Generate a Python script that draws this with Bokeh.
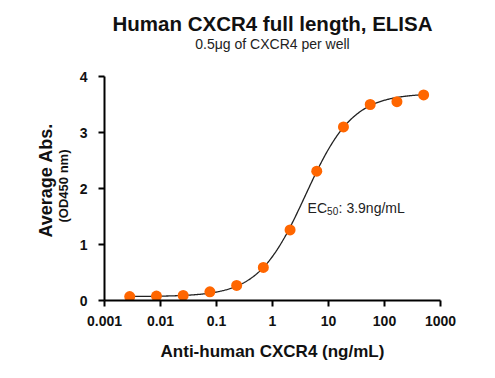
import numpy as np
from bokeh.plotting import figure
from bokeh.models import ColumnDataSource, FixedTicker, CustomJSTickFormatter, Title
from bokeh.core.properties import value
from bokeh.embed import file_html
from bokeh.resources import INLINE

# ---- data ----
concentration = [0.00282, 0.00847, 0.0254, 0.0762, 0.229, 0.686, 2.06, 6.17, 18.5, 55.6, 166.7, 500]
absorbance = [0.07, 0.08, 0.09, 0.155, 0.27, 0.59, 1.26, 2.31, 3.10, 3.50, 3.55, 3.67]
x_ticks = [0.001, 0.01, 0.1, 1, 10, 100, 1000]
y_ticks = [0, 1, 2, 3, 4]
# 4-parameter logistic fit shown in the chart
fit_bottom = 0.07
fit_top = 3.70
fit_ec50 = 3.9
fit_hill = 1.03
ec50_label_y = 1.65

title_text = "Human CXCR4 full length, ELISA"
subtitle_text = "0.5\u03bcg of CXCR4 per well"
x_label = "Anti-human CXCR4 (ng/mL)"
y_label = "Average Abs."
y_unit = "(OD450 nm)"

FONT = "Liberation Sans"

x_fit = np.logspace(np.log10(min(concentration)), np.log10(max(concentration)), 400)
y_fit = fit_bottom + (fit_top - fit_bottom) / (1 + (fit_ec50 / x_fit) ** fit_hill)

p = figure(width=495, height=378, x_axis_type="log",
           x_range=(x_ticks[0], x_ticks[-1]), y_range=(y_ticks[0], y_ticks[-1]),
           output_backend="svg", toolbar_location=None,
           min_border_left=104, min_border_right=55, min_border_top=76, min_border_bottom=78)

p.background_fill_color = "white"
p.border_fill_color = "white"
p.outline_line_color = None
p.grid.grid_line_color = None

# titles: panels stack outward from the frame; p.title is outermost
p.title.text = title_text
p.title.align = "center"
p.title.text_font = FONT
p.title.text_font_size = "20.5px"
p.title.text_font_style = "bold"
p.title.text_color = "#111111"
p.title.standoff = -2
spacer = Title(text=" ", text_font=FONT, text_font_size="10px", standoff=12)
p.add_layout(spacer, "above")
sub_title = Title(text=subtitle_text, align="center", text_font=FONT,
                  text_font_size="14px", text_font_style="normal", text_color="#222222",
                  standoff=0)
p.add_layout(sub_title, "above")

# axes
for ax in (p.xaxis[0], p.yaxis[0]):
    ax.axis_line_width = 2
    ax.axis_line_color = "black"
    ax.major_tick_line_width = 2
    ax.major_tick_line_color = "black"
    ax.major_tick_in = 0
    ax.major_tick_out = 6
    ax.minor_tick_line_color = None
    ax.major_label_text_font = FONT
    ax.major_label_text_font_size = "14px"
    ax.major_label_text_font_style = "bold"
    ax.major_label_text_color = "#111111"

p.xaxis.ticker = FixedTicker(ticks=x_ticks)
p.xaxis.formatter = CustomJSTickFormatter(code="return tick.toString();")
p.xaxis.major_label_standoff = 9
p.xaxis.axis_label = x_label
p.xaxis.axis_label_text_font = FONT
p.xaxis.axis_label_text_font_size = "17px"
p.xaxis.axis_label_text_font_style = "bold"
p.xaxis.axis_label_text_color = "#111111"
p.xaxis.axis_label_standoff = 13

p.yaxis.ticker = FixedTicker(ticks=y_ticks)
p.yaxis.major_label_standoff = 11

unit_title = Title(text=y_unit, align="left", text_font=FONT, offset=78, standoff=11,
                   text_font_size="13px", text_font_style="bold", text_color="#111111")
p.add_layout(unit_title, "left")
ylab_title = Title(text=y_label, align="left", text_font=FONT, offset=63, standoff=-14,
                   text_font_size="18px", text_font_style="bold", text_color="#111111")
p.add_layout(ylab_title, "left")

# fit line and points
p.line(x_fit, y_fit, line_color="#222222", line_width=1.3)
src = ColumnDataSource(dict(x=concentration, y=absorbance))
p.scatter("x", "y", source=src, size=11, fill_color="#FF6600", line_color=None)

# EC50 annotation
p.text(x=[fit_ec50], y=[ec50_label_y], text=["EC"], x_offset=2,
       text_font=value(FONT), text_font_size="14px", text_baseline="alphabetic",
       text_align="left", text_color="#222222")
p.text(x=[fit_ec50], y=[ec50_label_y], text=["50"], x_offset=21.5, y_offset=3,
       text_font=value(FONT), text_font_size="10px", text_baseline="alphabetic",
       text_align="left", text_color="#222222")
p.text(x=[fit_ec50], y=[ec50_label_y], text=[": %gng/mL" % fit_ec50], x_offset=33,
       text_font=value(FONT), text_font_size="14px", text_baseline="alphabetic",
       text_align="left", text_color="#222222")

open("out.html", "w").write(file_html(p, INLINE))
